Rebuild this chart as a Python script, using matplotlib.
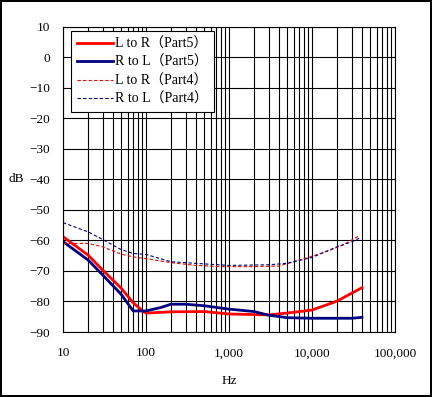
import matplotlib.pyplot as plt
from matplotlib.ticker import FixedLocator, FuncFormatter, NullFormatter

plt.rcParams['font.family'] = ['Liberation Serif', 'Noto Sans CJK JP']

# L to R (Part5), solid red
f_lr5 = [10, 20, 30, 50, 70, 90, 100, 200, 500, 1000, 3000, 5000, 10000, 20000, 30000, 40000]
db_lr5 = [-58.8, -64.8, -69.7, -75.6, -80.4, -83.0, -83.8, -83.4, -83.3, -84.1, -84.4, -83.8, -82.8, -79.9, -77.3, -75.5]

# R to L (Part5), solid navy
f_rl5 = [10, 20, 30, 50, 70, 100, 150, 200, 300, 500, 1000, 2000, 3000, 5000, 10000, 30000, 40000]
db_rl5 = [-60.4, -66.4, -71.3, -77.6, -83.1, -83.1, -82.0, -80.9, -80.9, -81.4, -82.5, -83.3, -84.5, -85.3, -85.5, -85.5, -85.2]

# L to R (Part4), dashed red
f_lr4 = [10, 20, 30, 50, 70, 100, 200, 400, 800, 2000, 4000, 9500, 16600, 23600, 37000]
db_lr4 = [-61.0, -61.0, -62.1, -64.5, -65.4, -66.0, -67.3, -68.2, -68.6, -68.6, -68.4, -65.4, -63.2, -61.5, -58.5]

# R to L (Part4), dashed navy
f_rl4 = [10, 20, 30, 50, 70, 100, 200, 500, 1000, 3000, 5000, 10000, 20000, 30000, 37000]
db_rl4 = [-54.2, -57.2, -59.7, -63.0, -64.3, -64.6, -67.0, -67.7, -68.2, -68.0, -67.5, -65.6, -62.1, -60.5, -59.3]

x_ticks = [10, 100, 1000, 10000, 100000]
x_labels = ["10", "100", "1,000", "10,000", "100,000"]
y_ticks = list(range(-90, 11, 10))

fig = plt.figure(figsize=(4.32, 3.97), dpi=100)
fig.patch.set_edgecolor('black')
fig.patch.set_linewidth(1.5)
ax = fig.add_axes([0.1458, 0.1637, 0.7686, 0.7695])

ax.plot(f_lr5, db_lr5, '-', color='#ff0000', lw=2.0, label="L to R（Part5）")
ax.plot(f_rl5, db_rl5, '-', color='#000080', lw=2.0, label="R to L（Part5）")
ax.plot(f_lr4, db_lr4, '--', color='#ff0000', lw=0.8, dashes=(3, 2), label="L to R（Part4）")
ax.plot(f_rl4, db_rl4, '--', color='#000080', lw=0.8, dashes=(3, 2), label="R to L（Part4）")

ax.set_xscale('log')
ax.set_xlim(10, 100000)
ax.set_ylim(-90, 10)
ax.xaxis.set_major_locator(FixedLocator(x_ticks))
ax.xaxis.set_major_formatter(FuncFormatter(lambda v, p: x_labels[x_ticks.index(v)] if v in x_ticks else ""))
minor = [m * 10 ** e for e in range(1, 5) for m in range(2, 10)]
ax.xaxis.set_minor_locator(FixedLocator(minor))
ax.xaxis.set_minor_formatter(NullFormatter())
ax.set_yticks(y_ticks)

ax.grid(True, which='both', color='black', lw=0.8)
ax.tick_params(axis='x', which='both', length=0, labelsize=9.5, pad=11)
ax.tick_params(axis='y', which='both', length=0, labelsize=9.5, pad=9)
for s in ax.spines.values():
    s.set_linewidth(0.8)

ax.set_xlabel("Hz", fontsize=9.5, labelpad=11)
ax.set_ylabel("dB", fontsize=9.5, rotation=0, va='center', ha='center')
ax.yaxis.set_label_coords(-0.14, 0.5)

leg = ax.legend(loc='upper left', bbox_to_anchor=(0.024, 0.985), fontsize=10,
                frameon=True, fancybox=False, edgecolor='black', framealpha=1,
                borderaxespad=0, handlelength=2.6, handletextpad=0.1,
                labelspacing=0.38, borderpad=0.45)
leg.get_frame().set_linewidth(0.8)

fig.savefig("out.png", dpi=100)
